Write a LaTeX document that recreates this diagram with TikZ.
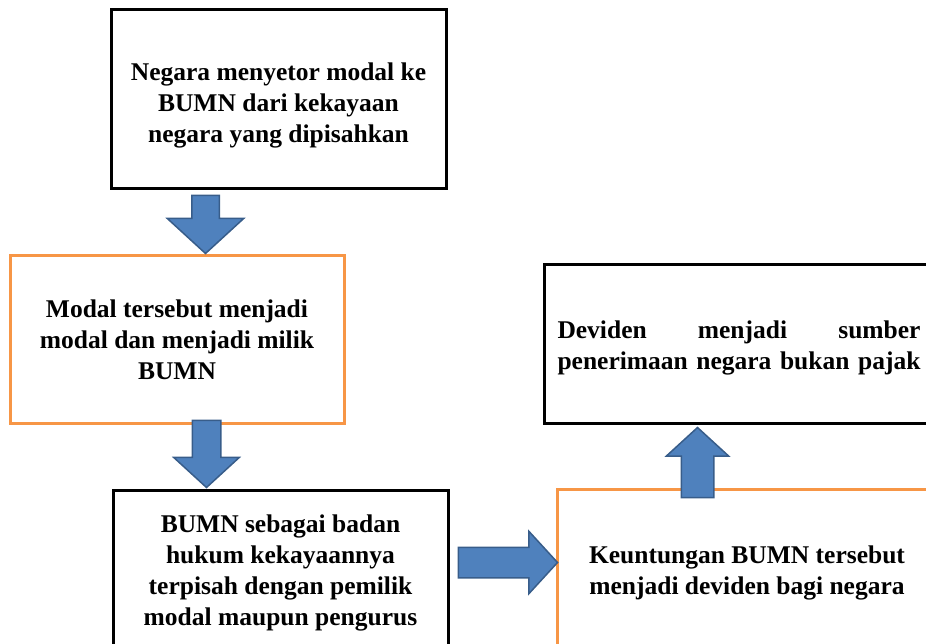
\documentclass[tikz,border=0pt]{standalone}
\usepackage{fontspec}
\setmainfont{Liberation Serif}
\usetikzlibrary{shapes.arrows}
\definecolor{panahisi}{RGB}{79,129,189}
\definecolor{panahtepi}{RGB}{56,93,138}
\definecolor{oranye}{RGB}{247,150,70}
\tikzset{
	kotak/.style={draw=black, line width=3pt, rectangle, inner sep=0pt, align=center, font=\bfseries\fontsize{25.5}{31}\selectfont},
	kotakjingga/.style={kotak, draw=oranye},
	panah/.style={single arrow, draw=panahtepi, fill=panahisi, line width=1.5pt, single arrow tip angle=95},
	panahtegak/.style={panah, inner ysep=0pt, inner xsep=#1},
	panahdatar/.style={panah, inner xsep=0pt, inner ysep=#1},
}

\begin{document}
\begin{tikzpicture}[x=1pt,y=-1pt]
	\useasboundingbox (0,0) rectangle (926,644);
	\clip (0,0) rectangle (926,644);
	\node[kotak, minimum width=335pt, minimum height=179pt] (setor) at (278.5,99.5) {Negara menyetor modal ke\\BUMN dari kekayaan\\negara yang dipisahkan\\[-38pt]};
	\node[kotakjingga, minimum width=334pt, minimum height=167pt] (modal) at (177,339.5) {Modal tersebut menjadi\\modal dan menjadi milik\\BUMN};
	\node[kotak, minimum width=335pt, minimum height=160pt] (bumn) at (280.5,570) {BUMN sebagai badan\\hukum kekayaannya\\terpisah dengan pemilik\\modal maupun pengurus\\[-32pt]};
	\node[kotakjingga, minimum width=380pt, minimum height=162pt] (untung) at (747,570) {Keuntungan BUMN tersebut\\menjadi deviden bagi negara\\[-32pt]};
	\node[kotak, minimum width=390pt, minimum height=158pt, text width=363pt, align=left] (deviden) at (739,344) {\rule{0pt}{26pt}Deviden\hfill menjadi\hfill sumber\\penerimaan\hfill negara\hfill bukan\hfill pajak};
	\node[panahtegak=13pt, shape border rotate=270, anchor=tip, minimum height=58pt, single arrow head extend=24.5pt] (p1) at ([xshift=28.5pt]modal.north) {};
	\node[panahtegak=13.5pt, shape border rotate=270, anchor=tip, minimum height=67pt, single arrow head extend=18.5pt] (p2) at ([xshift=-74pt]bumn.north) {};
	\node[panahdatar=14.5pt, anchor=tip, minimum height=99pt, single arrow head extend=16pt] (p3) at ([yshift=7.5pt,xshift=3pt]untung.west) {};
	\node[panahtegak=15.5pt, shape border rotate=90, anchor=tip, minimum height=70pt, single arrow head extend=15pt] (p4) at ([xshift=-41.5pt,yshift=-2pt]deviden.south) {};
\end{tikzpicture}
\end{document}
